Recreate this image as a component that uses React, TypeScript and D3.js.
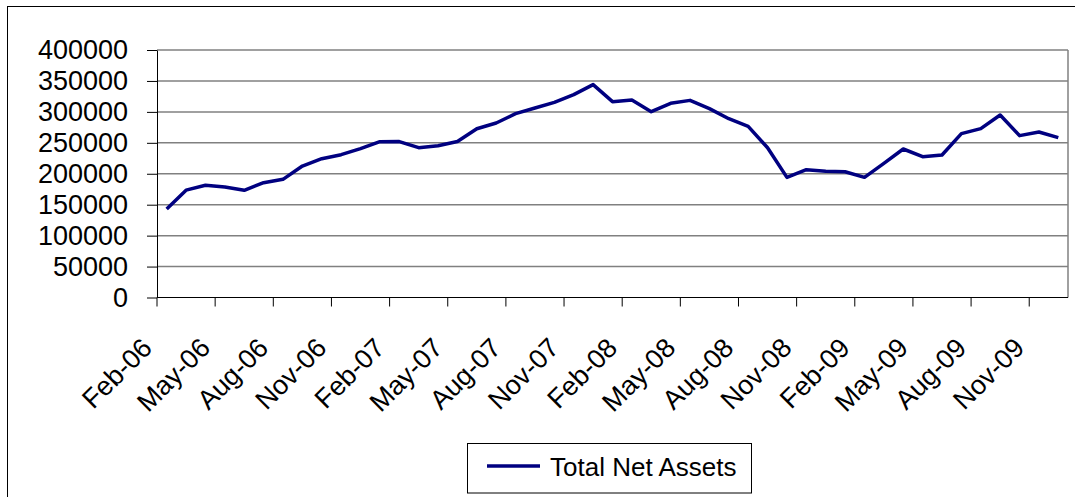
import React, { useEffect, useRef } from 'react';
import * as d3 from 'd3';

// monthly categories, Feb-06 .. Dec-09
const months = [
  'Feb-06', 'Mar-06', 'Apr-06', 'May-06', 'Jun-06', 'Jul-06', 'Aug-06', 'Sep-06', 'Oct-06', 'Nov-06', 'Dec-06',
  'Jan-07', 'Feb-07', 'Mar-07', 'Apr-07', 'May-07', 'Jun-07', 'Jul-07', 'Aug-07', 'Sep-07', 'Oct-07', 'Nov-07', 'Dec-07',
  'Jan-08', 'Feb-08', 'Mar-08', 'Apr-08', 'May-08', 'Jun-08', 'Jul-08', 'Aug-08', 'Sep-08', 'Oct-08', 'Nov-08', 'Dec-08',
  'Jan-09', 'Feb-09', 'Mar-09', 'Apr-09', 'May-09', 'Jun-09', 'Jul-09', 'Aug-09', 'Sep-09', 'Oct-09', 'Nov-09', 'Dec-09',
];

const totalNetAssets = [
  143000, 173500, 181500, 178500, 173200, 185500, 191000, 212500, 224300, 230800, 240500,
  251800, 252000, 242100, 245300, 252000, 272800, 282000, 297100, 306300, 315400, 327800, 344000,
  316500, 319200, 300300, 313800, 318600, 305200, 289000, 276600, 242100, 194200, 206600, 203900,
  203300, 194200, 216800, 240000, 227600, 230300, 264800, 272900, 294900, 261600, 267500, 258300,
];

const yTicks = [0, 50000, 100000, 150000, 200000, 250000, 300000, 350000, 400000];
const seriesName = 'Total Net Assets';

const FONT = 'Liberation Sans, Arial, sans-serif';

export default function App() {
  const ref = useRef<SVGSVGElement>(null);

  useEffect(() => {
    const w = 1075;
    const h = 497;
    const left = 157, right = 1068, top = 50, bottom = 297.5;

    const svg = d3.select(ref.current);
    svg.selectAll('*').remove();

    svg.append('rect')
      .attr('x', 0).attr('y', 0).attr('width', w).attr('height', h)
      .attr('fill', '#ffffff');

    // outer chart border
    svg.append('rect')
      .attr('x', 7.5).attr('y', 6.5).attr('width', w + 10).attr('height', h + 10)
      .attr('fill', 'none').attr('stroke', '#000').attr('stroke-width', 1);

    const x = d3.scaleBand<string>().domain(months).range([left, right]).padding(0);
    const y = d3.scaleLinear().domain([0, 400000]).range([bottom, top]);

    // gridlines
    svg.append('g')
      .selectAll('line')
      .data(yTicks.filter(t => t > 0))
      .enter()
      .append('line')
      .attr('x1', left).attr('x2', right)
      .attr('y1', d => y(d)).attr('y2', d => y(d))
      .attr('stroke', '#808080').attr('stroke-width', 1.5);

    // plot area right edge
    svg.append('line')
      .attr('x1', right).attr('x2', right).attr('y1', top).attr('y2', bottom)
      .attr('stroke', '#808080').attr('stroke-width', 1.5);

    // y axis
    const yAxis = d3.axisLeft(y).tickValues(yTicks).tickSize(10).tickSizeOuter(0).tickPadding(19)
      .tickFormat(d3.format('d'));
    const gy = svg.append('g').attr('transform', `translate(${left},0)`).call(yAxis);
    gy.select('.domain').attr('stroke', '#000');
    gy.selectAll('line').attr('stroke', '#000');
    gy.selectAll('text').attr('font-size', 27).attr('font-family', FONT).attr('fill', '#000');

    // x axis: ticks every 3 categories at boundaries
    const tickIdx = d3.range(0, months.length, 3);
    const gx = svg.append('g');
    gx.append('line')
      .attr('x1', left).attr('x2', right).attr('y1', bottom).attr('y2', bottom)
      .attr('stroke', '#000').attr('stroke-width', 1);
    gx.selectAll('line.tick')
      .data(tickIdx)
      .enter()
      .append('line')
      .attr('class', 'tick')
      .attr('x1', i => x(months[i])!).attr('x2', i => x(months[i])!)
      .attr('y1', bottom).attr('y2', bottom + 9)
      .attr('stroke', '#000');
    gx.selectAll('text')
      .data(tickIdx)
      .enter()
      .append('text')
      .attr('transform', i => `translate(${x(months[i])! + x.bandwidth() / 2 - 13},${bottom + 52}) rotate(-45)`)
      .attr('text-anchor', 'end')
      .attr('font-size', 27)
      .attr('font-family', FONT)
      .text(i => months[i]);

    // series line
    const line = d3.line<number>()
      .x((d, i) => x(months[i])! + x.bandwidth() / 2)
      .y(d => y(d));
    svg.append('path')
      .datum(totalNetAssets)
      .attr('d', line)
      .attr('fill', 'none')
      .attr('stroke', '#000080')
      .attr('stroke-width', 3.5)
      .attr('stroke-linejoin', 'round');

    // legend
    const lg = svg.append('g');
    lg.append('rect')
      .attr('x', 467.5).attr('y', 443.5).attr('width', 284).attr('height', 49.5)
      .attr('fill', '#fff').attr('stroke', '#000').attr('stroke-width', 1);
    lg.append('line')
      .attr('x1', 487).attr('x2', 540).attr('y1', 466).attr('y2', 466)
      .attr('stroke', '#000080').attr('stroke-width', 3.5);
    lg.append('text')
      .attr('x', 550).attr('y', 475.5)
      .attr('font-size', 26).attr('font-family', FONT)
      .text(seriesName);
  }, []);

  return (
    <div style={{ position: 'absolute', left: 0, top: 0 }}>
      <svg ref={ref} width={1075} height={497} style={{ display: 'block' }} />
    </div>
  );
}
